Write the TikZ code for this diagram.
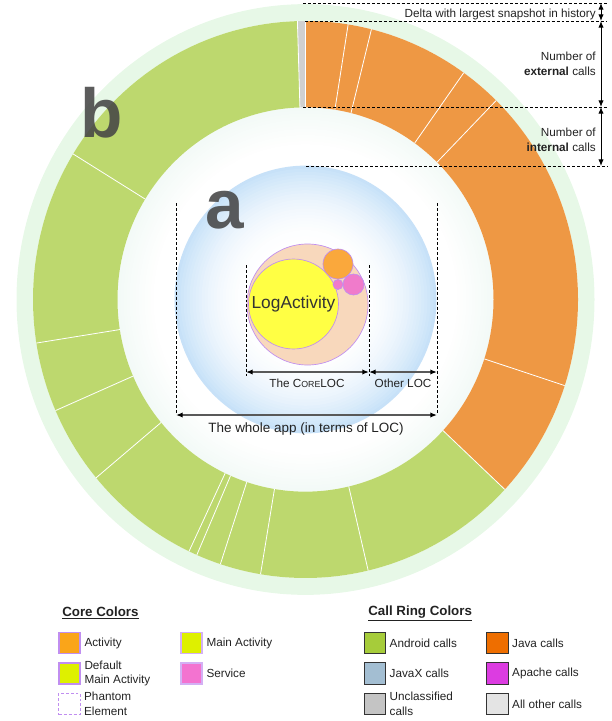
\documentclass[tikz,border=0pt]{standalone}
\usepackage{fontspec}
\setmainfont{Liberation Sans}
\usetikzlibrary{positioning,arrows.meta}

\definecolor{ringorange}{RGB}{238,152,68}
\definecolor{ringgreen}{RGB}{189,216,110}
\definecolor{ringband}{RGB}{231,248,231}
\definecolor{ringgray}{RGB}{208,208,208}
\definecolor{diskblue}{RGB}{198,225,248}
\definecolor{diskmint}{RGB}{243,250,247}
\definecolor{corepeach}{RGB}{248,216,188}
\definecolor{corelilac}{RGB}{192,142,240}
\definecolor{coreyellow}{RGB}{255,255,68}
\definecolor{coreorange}{RGB}{250,168,60}
\definecolor{corepink}{RGB}{240,123,203}
\definecolor{lgactivity}{RGB}{250,165,25}
\definecolor{lgmain}{RGB}{222,240,0}
\definecolor{lgservice}{RGB}{243,115,208}
\definecolor{lgandroid}{RGB}{166,204,58}
\definecolor{lgjava}{RGB}{238,110,0}
\definecolor{lgjavax}{RGB}{163,190,210}
\definecolor{lgapache}{RGB}{220,60,225}
\definecolor{lgunclass}{RGB}{196,196,196}
\definecolor{lgother}{RGB}{228,228,228}
\definecolor{textdark}{RGB}{34,34,34}
\definecolor{bigletter}{RGB}{70,70,70}

% ring sector: colour, start angle, end angle
\newcommand{\ringpart}[3]{%
  \fill[#1] (#2:188) arc[start angle=#2, end angle=#3, radius=188]
    -- (#3:272.5) arc[start angle=#3, end angle=#2, radius=272.5] -- cycle;}

\tikzset{
  dimline/.style={black, line width=0.6pt, dash pattern=on 2.2pt off 1.5pt},
  dimarrow/.style={draw=black!65, line width=1pt, {Latex[length=5pt,width=4pt,black]}-{Latex[length=5pt,width=4pt,black]}},
  callarrow/.style={black, line width=0.7pt, {Latex[length=5pt,width=4pt]}-{Latex[length=5pt,width=4pt]}},
  sepline/.style={white, line width=0.6pt},
  smalltext/.style={font=\fontsize{8.8}{11}\selectfont, text=textdark, inner sep=0pt},
  legtitle/.style={font=\fontsize{10}{12}\selectfont\bfseries, text=textdark, inner sep=0pt, anchor=west},
  coreswatch/.style={draw=corelilac, line width=1.1pt, minimum size=16pt, inner sep=0pt},
  callswatch/.style={draw=black!80, line width=0.7pt, minimum size=16pt, inner sep=0pt},
  legtext/.style={smalltext, align=left, right=2.5pt},
  bigletter/.style={font=\fontsize{52}{52}\selectfont\bfseries, text=bigletter, text opacity=0.88, inner sep=0pt, anchor=base west},
}

\begin{document}
\begin{tikzpicture}[x=0.75pt,y=0.75pt,yscale=-1]
\useasboundingbox (0,0) rectangle (611,721);

%Shape: rings and discs
\begin{scope}[shift={(305.5,299.5)}, yscale=1.022]
\fill[ringband, even odd rule] (0,0) circle (289) (0,0) circle (272.5);
% soft fade inside the ring
\foreach \i in {0,...,12} {
  \pgfmathtruncatemacro\rr{188-\i*3}
  \pgfmathtruncatemacro\pp{99-\i*8}
  \fill[diskmint!\pp!white] (0,0) circle (\rr);
}
% blue disc, white towards the core
\foreach \i in {0,...,26} {
  \pgfmathsetmacro\rr{131-\i*3}
  \pgfmathtruncatemacro\pp{99*((\rr-50)/81)^2}
  \fill[diskblue!\pp!white] (0,0) circle (\rr);
}
\ringpart{ringorange}{-90}{43}
\ringpart{ringgreen}{43}{268.3}
\ringpart{ringgray}{268.3}{270}
\foreach \a in {-90,-81,-76,-54.5,-45.6,18,43,76.7,99.5,108.2,113.5,115.3,140.2,156.5,171,211.5,268.3}
  \draw[sepline] (\a:188) -- (\a:272.5);
\end{scope}

% Text Node
\node[bigletter] (labB) at (80,137) {b};
\node[bigletter] (labA) at (205,228) {a};

%Shape: core bubbles
\draw[corelilac, fill=corepeach, line width=0.5pt] (307.5,304.5) circle (60.5);
\node[circle, fill=coreyellow, draw=corelilac, line width=0.5pt, minimum size=67.5pt, inner sep=0pt,
  font=\fontsize{13}{13}\selectfont, text=black!80] (logact) at (293.5,304) {LogActivity};
\draw[corelilac, fill=coreorange, line width=0.5pt] (338,264) circle (15);
\draw[corelilac, fill=corepink, line width=0.5pt] (353.5,284.5) circle (10.5);
\draw[corelilac, fill=corepink, line width=0.5pt] (338,284.5) circle (5);

%Straight Lines: LOC measures
\coordinate (appLtop) at (176,203);
\coordinate (appLbot) at (176,415);
\coordinate (appRtop) at (437,203);
\coordinate (appRbot) at (437,415);
\coordinate (coreLtop) at (246,265);
\coordinate (coreLbot) at (246,376);
\coordinate (coreRtop) at (369,265);
\coordinate (coreRbot) at (369,376);
\coordinate (coreL) at (246,372);
\coordinate (coreR) at (369,372);
\coordinate (otherR) at (437,372);
\draw[dimline] (appLtop) -- (appLbot);
\draw[dimline] (appRtop) -- (appRbot);
\draw[dimline] (coreLtop) -- (coreLbot);
\draw[dimline] (coreRtop) -- (coreRbot);
\draw[dimarrow] (coreL) -- (coreR);
\draw[dimarrow] (coreR) -- (otherR);
\draw[dimarrow] (appLbot) -- (appRbot);

% Text Node
\node[smalltext] (coreloc) at (307,383) {The C{\fontsize{6.6}{7}\selectfont ORE}LOC};
\node[smalltext] (otherloc) at (403,383) {Other LOC};
\node[smalltext, font=\fontsize{10.1}{12}\selectfont] (wholeapp) at (306,429) {The whole app (in terms of LOC)};

%Straight Lines: call counts
\coordinate (d0L) at (303,3);
\coordinate (d0R) at (607,3);
\coordinate (d1L) at (305,21);
\coordinate (d1R) at (607,21);
\coordinate (d2L) at (303,107);
\coordinate (d2R) at (607,107);
\coordinate (d3L) at (306,166);
\coordinate (d3R) at (607,166);
\draw[dimline] (d0L) -- (d0R);
\draw[dimline] (d1L) -- (d1R);
\draw[dimline] (d2L) -- (d2R);
\draw[dimline] (d3L) -- (d3R);
\coordinate (a0) at (601,3);
\coordinate (a1) at (601,21);
\coordinate (a2) at (601,107);
\coordinate (a3) at (601,166);
\draw[callarrow] (a0) -- (a1);
\draw[callarrow] (a1) -- (a2);
\draw[callarrow] (a2) -- (a3);

% Text Node
\node[smalltext, anchor=east] (delta) at (596,14) {Delta with largest snapshot in history};
\node[smalltext, anchor=east, align=right] (extcalls) at (596,63.5) {Number of\\\textbf{external} calls};
\node[smalltext, anchor=east, align=right] (intcalls) at (596,140) {Number of\\\textbf{internal} calls};

%Legend: core colours
\node[legtitle] (coretitle) at (62,613) {\underline{Core Colors}};
\node[coreswatch, fill=lgactivity] (swActivity) at (69.5,643) {};
\node[legtext] (txActivity) at (swActivity.east) {Activity};
\node[coreswatch, fill=lgmain] (swDefault) at (69.5,673.5) {};
\node[legtext] (txDefault) at (swDefault.east) {Default\\Main Activity};
\node[coreswatch, draw=corelilac, dash pattern=on 2.2pt off 1.5pt, line width=0.6pt, fill=white] (swPhantom) at (69.5,704) {};
\node[legtext] (txPhantom) at (swPhantom.east) {Phantom\\Element};
\node[coreswatch, draw=corelilac!70, fill=lgmain] (swMain) at (191.5,643) {};
\node[legtext] (txMain) at (swMain.east) {Main Activity};
\node[coreswatch, draw=corelilac!70, fill=lgservice] (swService) at (191.5,673.5) {};
\node[legtext] (txService) at (swService.east) {Service};

%Legend: call ring colours
\node[legtitle] (calltitle) at (368,613) {\underline{Call Ring Colors}};
\node[callswatch, fill=lgandroid] (swAndroid) at (375,643) {};
\node[legtext] (txAndroid) at (swAndroid.east) {Android calls};
\node[callswatch, fill=lgjavax] (swJavaX) at (375,673.5) {};
\node[legtext] (txJavaX) at (swJavaX.east) {JavaX calls};
\node[callswatch, fill=lgunclass] (swUnclass) at (375,704) {};
\node[legtext] (txUnclass) at (swUnclass.east) {Unclassified\\calls};
\node[callswatch, fill=lgjava] (swJava) at (497.5,643) {};
\node[legtext] (txJava) at (swJava.east) {Java calls};
\node[callswatch, fill=lgapache] (swApache) at (497.5,673.5) {};
\node[legtext] (txApache) at (swApache.east) {Apache calls};
\node[callswatch, fill=lgother] (swOther) at (497.5,704) {};
\node[legtext] (txOther) at (swOther.east) {All other calls};

\end{tikzpicture}
\end{document}
